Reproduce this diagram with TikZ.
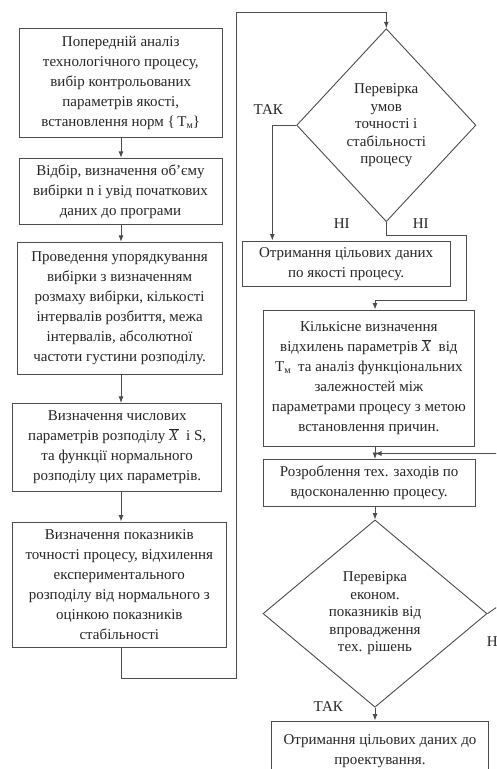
\documentclass[tikz,border=0pt]{standalone}
\usepackage{fontspec}
\setmainfont{Liberation Serif}
\usetikzlibrary{arrows.meta,shapes.geometric}
\newcommand{\Tmsub}{Т\raisebox{-0.35ex}{\fontsize{10}{10}\selectfont м}}
\newcommand{\Xbar}{$\overline{\mbox{\textit{X}}}$}
\begin{document}
\begin{tikzpicture}[x=1pt,y=-1pt,
  line width=0.9pt,
  box/.style={draw=black!70, text=black!85, inner sep=0pt, align=center, font=\fontsize{15}{20}\selectfont},
  dia/.style={draw=black!70, text=black!85, shape=diamond, inner sep=0pt, align=center, font=\fontsize{15}{17.5}\selectfont},
  lbl/.style={text=black!85, inner sep=0pt, font=\fontsize{15}{18}\selectfont},
  arr/.style={draw=black!70,-{Latex[length=6.5pt,width=5pt]}},
  con/.style={draw=black!70}]
\useasboundingbox (0,0) rectangle (496,769);
\clip (0,0) rectangle (496,769);
\fill[white] (0,0) rectangle (496,769);

% left column
\coordinate (colx) at (121,0);
\node[box, minimum width=202.5pt, minimum height=109pt] (b1) at (120.75,82.8)
  {Попередній аналіз\\технологічного процесу,\\вибір контрольованих\\параметрів якості,\\встановлення норм \{\,\Tmsub\}};
\node[box, minimum width=203pt, minimum height=66pt] (b2) at (120.5,191.3)
  {Відбір, визначення об’єму\\вибірки n і увід початкових\\даних до програми};
\node[box, minimum width=204.7pt, minimum height=132pt] (b3) at (119.6,308.3)
  {Проведення упорядкування\\вибірки з визначенням\\розмаху вибірки, кількості\\інтервалів розбиття, межа\\інтервалів, абсолютної\\частоти густини розподілу.};
\node[box, minimum width=209pt, minimum height=87.7pt] (b4) at (117.2,447.2)
  {Визначення числових\\параметрів розподілу \Xbar\ \ і S,\\та функції нормального\\розподілу цих параметрів.};
\node[box, minimum width=214.7pt, minimum height=125.3pt] (b5) at (119.3,584.6)
  {Визначення показників\\точності процесу, відхилення\\експериментального\\розподілу від нормального з\\оцінкою показників\\стабільності};

% right column
\node[dia, minimum width=179.3pt, minimum height=193pt] (d1) at (386.3,125.2)
  {Перевірка\\умов\\точності і\\стабільності\\процесу};
\node[box, minimum width=207.7pt, minimum height=45.7pt] (r1) at (346.2,263.8)
  {Отримання цільових даних\\по якості процесу.};
\node[box, minimum width=211.2pt, minimum height=136.5pt] (r2) at (368.9,378.2)
  {Кількісне визначення\\відхилень параметрів \Xbar\ \ від\\\Tmsub\ \ та аналіз функціональних\\залежностей між\\параметрами процесу з метою\\встановлення причин.};
\node[box, minimum width=211.7pt, minimum height=46.5pt] (r3) at (369.1,482.7)
  {Розроблення тех. заходів по\\вдосконаленню процесу.};
\node[dia, minimum width=224pt, minimum height=187.3pt] (d2) at (375,613.6)
  {Перевірка\\економ.\\показників від\\впровадження\\тех. рішень};
\node[box, minimum width=216.6pt, minimum height=60pt] (r4) at (380,751)
  {Отримання цільових даних до\\проектування.};

% labels
\node[lbl] (t1) at (268.3,110) {ТАК};
\node[lbl] (h1) at (341.7,223.3) {НІ};
\node[lbl] (h2) at (420.7,223.3) {НІ};
\node[lbl] (t2) at (328.3,706.7) {ТАК};
\node[lbl, anchor=west] (h3) at (486.5,642) {НІ};

% left column arrows
\draw[arr] (b1.south -| colx) -- (b2.north -| colx);
\draw[arr] (b2.south -| colx) -- (b3.north -| colx);
\draw[arr] (b3.south -| colx) -- (b4.north -| colx);
\draw[arr] (b4.south -| colx) -- (b5.north -| colx);

% loop to the first decision
\coordinate (lp1) at (236,678.3);
\coordinate (lp2) at (236,12.7);
\draw[arr] (b5.south -| colx) |- (lp1) -- (lp2) -| (d1.north);

% decision 1 branches
\coordinate (tx) at (272.3,0);
\draw[arr] (d1.west) -| (tx |- r1.north);
\coordinate (n1) at (466,235);
\coordinate (n2) at (466,300);
\coordinate (rx) at (375,0);
\draw[arr] (d1.south) |- (n1) -- (n2) -| (rx |- r2.north);

% right column arrows
\draw[arr] (rx |- r2.south) -- (rx |- r3.north);
\draw[arr] (rx |- r3.south) -- (d2.north);
\draw[arr] (d2.south) -- (rx |- r4.north);

% loop back from decision 2
\coordinate (e1) at (500,605);
\coordinate (e2) at (500,453.5);
\draw[arr] (d2.east) -- (e1) -- (e2) -- (rx |- e2);
\end{tikzpicture}
\end{document}
